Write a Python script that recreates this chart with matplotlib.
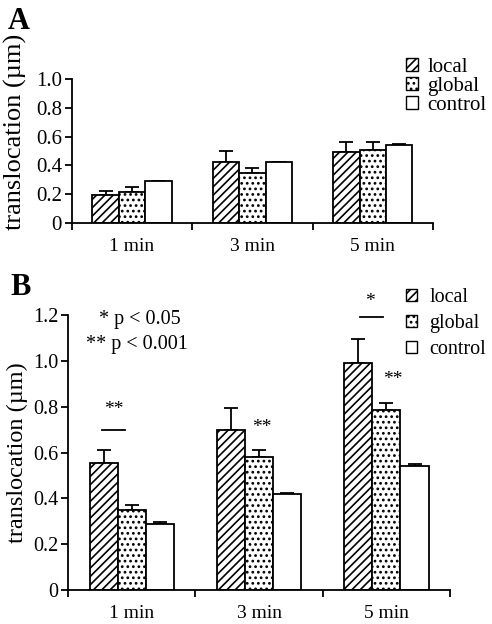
import numpy as np
import matplotlib.pyplot as plt
from matplotlib.patches import Patch

plt.rcParams['font.family'] = ['Liberation Serif', 'DejaVu Serif']
plt.rcParams['hatch.linewidth'] = 1.2

# data
categories = ['1 min', '3 min', '5 min']
series = ['local', 'global', 'control']

a_vals = {'local': [0.19, 0.42, 0.49], 'global': [0.215, 0.35, 0.51], 'control': [0.29, 0.42, 0.54]}
a_errs = {'local': [0.03, 0.08, 0.07], 'global': [0.035, 0.03, 0.05], 'control': [0.0, 0.0, 0.01]}

b_vals = {'local': [0.555, 0.70, 0.99], 'global': [0.35, 0.58, 0.785], 'control': [0.29, 0.42, 0.543]}
b_errs = {'local': [0.055, 0.095, 0.105], 'global': [0.02, 0.03, 0.03], 'control': [0.005, 0.005, 0.005]}

hatches = {'local': '////', 'global': '...', 'control': ''}

fig = plt.figure(figsize=(4.92, 6.24), dpi=100)
axA = fig.add_axes([0.146, 0.643, 0.734, 0.230])
axB = fig.add_axes([0.138, 0.0545, 0.777, 0.4405])


def draw(ax, vals, errs, ymax, bw):
    x = np.arange(len(categories))
    for i, s in enumerate(series):
        pos = x + (i - 1) * bw
        ax.bar(pos, vals[s], bw, color='white', edgecolor='black', linewidth=1.3,
               hatch=hatches[s], zorder=2)
        ax.errorbar(pos, vals[s], yerr=[np.zeros(3), errs[s]], fmt='none',
                    ecolor='black', elinewidth=1.3, capsize=5, capthick=1.3, zorder=1)
    ax.set_xlim(-0.5, 2.5)
    ax.set_ylim(0, ymax)
    ax.spines['top'].set_visible(False)
    ax.spines['right'].set_visible(False)
    for sp in ['left', 'bottom']:
        ax.spines[sp].set_linewidth(1.3)
    ax.set_xticks([-0.5, 0.5, 1.5, 2.5])
    ax.set_xticklabels([])
    ax.set_xticks(x, minor=True)
    ax.set_xticklabels(categories, minor=True)
    ax.tick_params(axis='x', which='major', direction='out', length=5, width=1.3)
    ax.tick_params(axis='x', which='minor', length=0, pad=11, labelsize=14)
    ax.tick_params(axis='y', direction='out', length=5, width=1.3, pad=2)
    return [Patch(facecolor='white', edgecolor='black', hatch=hatches[s], label=s) for s in series]


hA = draw(axA, a_vals, a_errs, 1.0, 0.22)
axA.set_yticks([0, 0.2, 0.4, 0.6, 0.8, 1.0])
axA.set_yticklabels(['0', '0.2', '0.4', '0.6', '0.8', '1.0'])
axA.tick_params(axis='y', labelsize=15)
axA.set_ylabel('translocation (µm)', fontsize=19)
axA.yaxis.set_label_coords(-0.125, 0.63)
fig.legend(handles=hA, loc='upper left', bbox_to_anchor=(0.826, 0.907),
           frameon=False, fontsize=15, handlelength=0.55, handleheight=0.55,
           handletextpad=0.45, labelspacing=0.0, borderpad=0, borderaxespad=0)

hB = draw(axB, b_vals, b_errs, 1.2, 0.22)
axB.set_yticks([0, 0.2, 0.4, 0.6, 0.8, 1.0, 1.2])
axB.set_yticklabels(['0', '0.2', '0.4', '0.6', '0.8', '1.0', '1.2'])
axB.tick_params(axis='y', labelsize=14.5)
axB.set_ylabel('translocation (µm)', fontsize=17.5)
axB.yaxis.set_label_coords(-0.105, 0.50)
fig.legend(handles=hB, loc='upper left', bbox_to_anchor=(0.826, 0.538),
           frameon=False, fontsize=14.5, handlelength=0.55, handleheight=0.55,
           handletextpad=0.6, labelspacing=0.35, borderpad=0, borderaxespad=0)

# significance marks in B
axB.plot([-0.23, -0.05], [0.70, 0.70], color='black', lw=1.3)
axB.text(-0.14, 0.79, '**', ha='center', va='center', fontsize=14)
axB.text(1.02, 0.71, '**', ha='center', va='center', fontsize=14)
axB.plot([1.79, 1.97], [1.19, 1.19], color='black', lw=1.3)
axB.text(1.87, 1.26, '*', ha='center', va='center', fontsize=14)
axB.text(2.05, 0.92, '**', ha='center', va='center', fontsize=14)
axB.text(0.066, 1.18, '* p < 0.05', ha='center', va='center', fontsize=14.5)
axB.text(0.04, 1.07, '** p < 0.001', ha='center', va='center', fontsize=14.5)

fig.text(0.016, 0.966, 'A', fontsize=22, fontweight='bold', va='center')
fig.text(0.022, 0.54, 'B', fontsize=22, fontweight='bold', va='center')

fig.savefig('out.png', dpi=100)
